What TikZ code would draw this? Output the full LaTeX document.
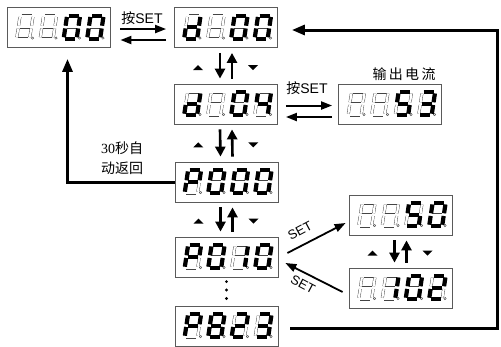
\documentclass[tikz,border=0pt]{standalone}
\usepackage{fontspec}
\setmainfont{Liberation Sans}
\newfontfamily\cjk{Noto Sans CJK SC}
\newfontfamily\serifnum{Liberation Serif}
\usepackage{tikz}
\usetikzlibrary{positioning, arrows.meta, calc}
\definecolor{boxline}{HTML}{5A5A5A}
\definecolor{ghost}{HTML}{444444}

\tikzset{
  disp/.style={draw=boxline, line width=0.8pt, minimum width=103pt, minimum height=40pt, inner sep=0pt},
  ghostseg/.style={draw=ghost, line width=0.4pt, double=white, double distance=2.2pt},
  litseg/.style={draw=black, line width=4.2pt},
  swaparrow/.style={line width=2pt, -{Triangle[length=11pt,width=8pt]}},
  navarrow/.style={line width=2.6pt, -{Triangle[length=10pt,width=10pt]}},
  setarrow/.style={line width=1.8pt, -{Triangle[length=11pt,width=8pt]}},
  loopline/.style={line width=3pt, -{Triangle[length=13pt,width=10pt]}},
  lbl/.style={font=\fontsize{14}{20}\selectfont, inner sep=0pt},
}

% lit segments of each shown character
\newcommand{\sgoff}{n}
\newcommand{\sgzero}{a,b,c,d,e,f}
\newcommand{\sgone}{b,c}
\newcommand{\sgtwo}{a,b,g,e,d}
\newcommand{\sgthree}{a,b,g,c,d}
\newcommand{\sgfour}{f,g,b,c}
\newcommand{\sgfive}{a,f,g,c,d}
\newcommand{\sgeight}{a,b,c,d,e,f,g}
\newcommand{\sgd}{b,c,d,e,g}
\newcommand{\sgP}{a,b,e,f,g}

\newcommand{\digitat}[2]{%
  \begin{scope}[shift={#1}, xslant=0.15]
    \coordinate (a1) at (1.4,0);    \coordinate (a2) at (11.6,0);
    \coordinate (b1) at (13,1.4);   \coordinate (b2) at (13,10.1);
    \coordinate (c1) at (13,12.9);  \coordinate (c2) at (13,21.6);
    \coordinate (d1) at (1.4,23);   \coordinate (d2) at (11.6,23);
    \coordinate (e1) at (0,12.9);   \coordinate (e2) at (0,21.6);
    \coordinate (f1) at (0,1.4);    \coordinate (f2) at (0,10.1);
    \coordinate (g1) at (1.4,11.5); \coordinate (g2) at (11.6,11.5);
    \coordinate (n1) at (0,0);      \coordinate (n2) at (0,0);
    \foreach \s in {a,...,g} \draw[ghostseg] (\s1) -- (\s2);
    \foreach \s in #2 {\draw[litseg] (\s1) -- (\s2);}
    \draw[ghost, line width=0.4pt] (15.8,22.5) circle (1.2pt);
  \end{scope}
}

\newcommand{\showdisp}[5]{%
  \digitat{($(#1.north west)+(13.5,8.5)$)}{#2}
  \digitat{($(#1.north west)+(37,8.5)$)}{#3}
  \digitat{($(#1.north west)+(60.5,8.5)$)}{#4}
  \digitat{($(#1.north west)+(84,8.5)$)}{#5}
}

\newcommand{\navpair}[2]{%
  \draw[navarrow] ($(#1.south)+(-6,5)$) -- ($(#2.north)+(-6,-5)$);
  \draw[navarrow] ($(#2.north)+(6,-5)$) -- ($(#1.south)+(6,5)$);
  \fill ($(#1.south)!0.55!(#2.north)+(-28,0)$) ++(-5,2.5) -- ++(10,0) -- ++(-5,-5) -- cycle;
  \fill ($(#1.south)!0.55!(#2.north)+(27,0)$) ++(-5,-2.5) -- ++(10,0) -- ++(-5,5) -- cycle;
}

\begin{document}
\begin{tikzpicture}[x=1pt, y=-1pt]
  \useasboundingbox (0,0) rectangle (501,346);

  \node[disp] (disphome) at (58.5,27.5) {};
  \node[disp] (dispmenu) at (226,27.5) {};
  \node[disp] (dispchan) at (226,104) {};
  \node[disp] (dispcur) at (390,104) {};
  \node[disp] (disppar) at (226.5,182) {};
  \node[disp] (dispfun) at (226.5,257) {};
  \node[disp] (displast) at (226.5,326) {};
  \node[disp] (dispset) at (400.5,215) {};
  \node[disp] (dispval) at (400.5,288) {};

  \showdisp{disphome}{\sgoff}{\sgoff}{\sgzero}{\sgzero}
  \showdisp{dispmenu}{\sgd}{\sgoff}{\sgzero}{\sgzero}
  \showdisp{dispchan}{\sgd}{\sgoff}{\sgzero}{\sgfour}
  \showdisp{dispcur}{\sgoff}{\sgoff}{\sgfive}{\sgthree}
  \showdisp{disppar}{\sgP}{\sgzero}{\sgzero}{\sgzero}
  \showdisp{dispfun}{\sgP}{\sgzero}{\sgone}{\sgzero}
  \showdisp{displast}{\sgP}{\sgeight}{\sgtwo}{\sgthree}
  \showdisp{dispset}{\sgoff}{\sgoff}{\sgfive}{\sgzero}
  \showdisp{dispval}{\sgoff}{\sgone}{\sgzero}{\sgtwo}

  % SET between screens
  \node[lbl] (setlbla) at (142,18) {{\cjk 按}SET};
  \draw[swaparrow] ($(disphome.east)+(10,1.5)$) -- ($(dispmenu.west)+(-8,1.5)$);
  \draw[swaparrow] ($(dispmenu.west)+(-8,12.5)$) -- ($(disphome.east)+(10,12.5)$);

  \node[lbl] (setlblb) at (307,88) {{\cjk 按}SET};
  \node[lbl, font=\cjk\fontsize{14}{16}\selectfont] (curlbl) at (404,74) {输\,出\,电\,流};
  \draw[swaparrow] ($(dispchan.east)+(8,1.5)$) -- ($(dispcur.west)+(-6,1.5)$);
  \draw[swaparrow] ($(dispcur.west)+(-6,13)$) -- ($(dispchan.east)+(8,13)$);

  \navpair{dispmenu}{dispchan}
  \navpair{dispchan}{disppar}
  \navpair{disppar}{dispfun}
  \navpair{dispset}{dispval}

  \foreach \k in {0.15,0.45,0.75}
    \fill ($(dispfun.south)!\k!(displast.north)$) circle (1.6pt);

  % timeout back to home
  \node[lbl, align=center] (backlbl) at (122,158) {{\serifnum 30}{\cjk 秒自}\\{\cjk 动返回}};
  \draw[loopline] (disppar.west) -| ($(disphome.south)+(9,11)$);

  % last item back to menu
  \draw[loopline] ($(displast.east)+(12,2)$) -| (497,30) -- ($(dispmenu.east)+(14,2.5)$);

  % value editing
  \draw[setarrow] ($(dispfun.east)+(9,-4)$) -- ($(dispset.west)+(-3,8)$);
  \draw[setarrow] ($(dispval.west)+(-6,4)$) -- ($(dispfun.east)+(7,6)$);
  \node[lbl, font=\fontsize{13}{15}\selectfont, rotate=28] (setup) at (300,231) {SET};
  \node[lbl, font=\fontsize{13}{15}\selectfont, rotate=-28] (setdown) at (303,284) {SET};
\end{tikzpicture}
\end{document}
